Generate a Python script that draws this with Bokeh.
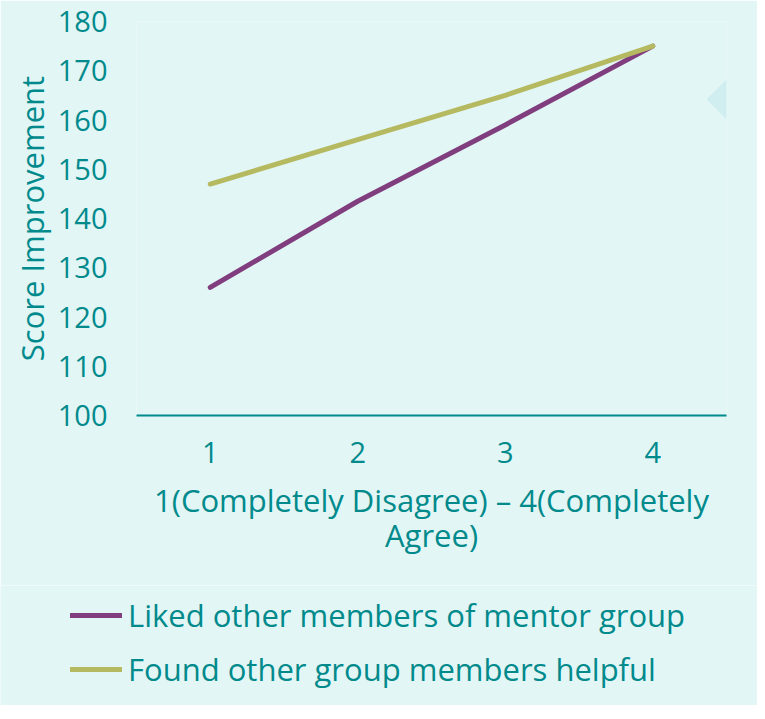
from bokeh.plotting import figure
from bokeh.layouts import column
from bokeh.models import ColumnDataSource, FixedTicker, Legend, LegendItem, PolyAnnotation, Range1d
from bokeh.embed import file_html
from bokeh.resources import INLINE

# ---- data ----
x_levels = [1, 2, 3, 4]
liked_members = [126, 143.5, 159, 175]
found_helpful = [147, 156, 165, 175]
y_ticks = [100, 110, 120, 130, 140, 150, 160, 170, 180]
series_names = ["Liked other members of mentor group", "Found other group members helpful"]

TEAL = "#008a8c"
BG = "#e3f6f6"
TRI = "#d0eef0"
PURPLE = "#803e7e"
OLIVE = "#b5b960"
FONT = "Open Sans"
FS_TICK = "29px"
FS = "31px"

p = figure(width=757, height=585, output_backend="svg", toolbar_location=None,
           x_range=Range1d(0.5, 4.5), y_range=Range1d(100, 180),
           min_border_left=136, min_border_right=31, min_border_top=21, min_border_bottom=170)
p.background_fill_color = BG
p.border_fill_color = BG
p.outline_line_color = None
p.grid.visible = False

# decorative triangle at right edge (background decoration)
tri = PolyAnnotation(xs=[4.364, 4.71, 4.71], ys=[164.2, 174.6, 153.8],
                     fill_color=TRI, fill_alpha=1.0, line_color=None, level="underlay")
p.add_layout(tri)

src = ColumnDataSource(dict(x=x_levels, liked=liked_members, found=found_helpful))
r1 = p.line("x", "liked", source=src, line_color=PURPLE, line_width=5, line_cap="round")
r2 = p.line("x", "found", source=src, line_color=OLIVE, line_width=5, line_cap="round")

# y axis
ya = p.yaxis[0]
ya.ticker = FixedTicker(ticks=y_ticks)
ya.axis_line_color = None
ya.major_tick_line_color = None
ya.minor_tick_line_color = None
ya.major_label_standoff = 23
ya.major_label_text_font = FONT
ya.major_label_text_font_size = FS_TICK
ya.major_label_text_color = TEAL
ya.axis_label = "Score Improvement"
ya.axis_label_text_font = FONT
ya.axis_label_text_font_size = FS
ya.axis_label_text_font_style = "normal"
ya.axis_label_text_color = TEAL
ya.axis_label_standoff = 2

# x axis
xa = p.xaxis[0]
xa.ticker = FixedTicker(ticks=x_levels)
xa.axis_line_color = TEAL
xa.axis_line_width = 2
xa.major_tick_line_color = None
xa.minor_tick_line_color = None
xa.major_label_standoff = 20
xa.major_label_text_font = FONT
xa.major_label_text_font_size = FS_TICK
xa.major_label_text_color = TEAL
xa.axis_label = "1(Completely Disagree) \u2013 4(Completely\nAgree)"
xa.axis_label_text_font = FONT
xa.axis_label_text_font_size = FS
xa.axis_label_text_font_style = "normal"
xa.axis_label_text_color = TEAL
xa.axis_label_text_line_height = 0.85
xa.axis_label_standoff = 13

# legend panel underneath (its lines use the same data, outside its own view)
pl = figure(width=757, height=120, output_backend="svg", toolbar_location=None,
            x_range=Range1d(-10, -9), y_range=Range1d(-10, -9),
            x_axis_location=None, y_axis_location=None,
            min_border_left=0, min_border_right=0, min_border_top=0, min_border_bottom=0)
pl.background_fill_color = BG
pl.border_fill_color = BG
pl.outline_line_color = None
pl.grid.visible = False
k1 = pl.line("x", "liked", source=src, line_color=PURPLE, line_width=5, line_cap="round")
k2 = pl.line("x", "found", source=src, line_color=OLIVE, line_width=5, line_cap="round")
legend = Legend(items=[LegendItem(label=series_names[0], renderers=[k1]),
                       LegendItem(label=series_names[1], renderers=[k2])],
                location=(70, 15), orientation="vertical",
                label_text_font=FONT, label_text_font_size=FS, label_text_color=TEAL,
                glyph_width=52, glyph_height=40, label_height=40, label_standoff=6, spacing=12,
                padding=0, margin=0, border_line_color=None, background_fill_alpha=0)
pl.add_layout(legend, "center")

for f in (p, pl):
    try:
        f.frame_align = False
    except Exception:
        pass

layout = column(p, pl, spacing=0)
open("out.html", "w").write(file_html(layout, INLINE))
